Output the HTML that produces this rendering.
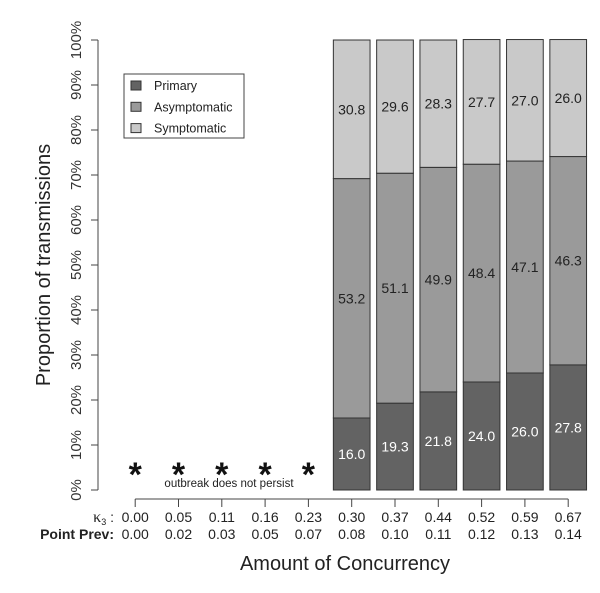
<!DOCTYPE html>
<html><head><meta charset="utf-8"><style>
body{margin:0;background:#fff}
svg text{font-family:"Liberation Sans",sans-serif}
</style></head><body>
<svg id="chart" width="600" height="588" viewBox="0 0 600 588" xmlns="http://www.w3.org/2000/svg"></svg>
<script>
const kappa = ["0.00","0.05","0.11","0.16","0.23","0.30","0.37","0.44","0.52","0.59","0.67"];
const pointPrev = ["0.00","0.02","0.03","0.05","0.07","0.08","0.10","0.11","0.12","0.13","0.14"];
const persists = [false,false,false,false,false,true,true,true,true,true,true];
const primary = [0,0,0,0,0,16.0,19.3,21.8,24.0,26.0,27.8];
const asymptomatic = [0,0,0,0,0,53.2,51.1,49.9,48.4,47.1,46.3];
const symptomatic = [0,0,0,0,0,30.8,29.6,28.3,27.7,27.0,26.0];
const yTicks = [0,10,20,30,40,50,60,70,80,90,100];

const svg = document.getElementById('chart');
const NS = 'http://www.w3.org/2000/svg';
function mk(tag, attrs, parent){const e=document.createElementNS(NS,tag);for(const k in attrs)e.setAttribute(k,attrs[k]);(parent||svg).appendChild(e);return e;}
const y = v => 490 - v*4.5;
const x = i => 135.2 + i*43.3;
const bw = 36.7;

let ax = mk('line',{x1:98,y1:y(0),x2:98,y2:y(100),stroke:'#444','stroke-width':1});


yTicks.forEach(t=>{
  const l=mk('line',{x1:91,y1:y(t),x2:98,y2:y(t),stroke:'#444'});
  
  
  const tx=mk('text',{x:0,y:0,transform:`translate(81,${y(t)}) rotate(-90)`,'text-anchor':'middle','font-size':15,fill:'#333'});
  tx.textContent=t+'%';
  
  
});
const yt=mk('text',{transform:'translate(50,265) rotate(-90)','text-anchor':'middle','font-size':20,fill:'#222'});
yt.textContent='Proportion of transmissions';



const xl=mk('line',{x1:x(0),y1:499,x2:x(10),y2:499,stroke:'#444'});


kappa.forEach((k,i)=>{
  const t=mk('line',{x1:x(i),y1:499,x2:x(i),y2:507,stroke:'#444'});
  
  
  const a=mk('text',{x:x(i),y:522,'text-anchor':'middle','font-size':14,fill:'#222'});
  a.textContent=k;
  
  
  const b=mk('text',{x:x(i),y:539,'text-anchor':'middle','font-size':14,fill:'#222'});
  b.textContent=pointPrev[i];
  
  
});
const kl=mk('text',{x:114,y:522,'text-anchor':'end','font-size':14,fill:'#222'});
kl.innerHTML='<tspan font-family="Liberation Serif" font-size="16">κ</tspan><tspan font-size="9" dy="3">3</tspan><tspan dy="-3"> :</tspan>';


const pl=mk('text',{x:114,y:539,'text-anchor':'end','font-size':14,'font-weight':'bold',fill:'#222'});
pl.textContent='Point Prev:';


const xt=mk('text',{x:345,y:570,'text-anchor':'middle','font-size':20,fill:'#222'});
xt.textContent='Amount of Concurrency';



const series=[[primary,'#636363','#fff','primary'],[asymptomatic,'#9a9a9a','#222','asymptomatic'],[symptomatic,'#c9c9c9','#222','symptomatic']];
kappa.forEach((k,i)=>{
  if(!persists[i]){
    const s=mk('text',{x:x(i),y:486,'text-anchor':'middle','font-size':34,'font-weight':'bold',fill:'#111'});
    s.textContent='*';
    
    
    return;
  }
  let base=0;
  series.forEach(([arr,col,tc,nm])=>{
    const v=arr[i];
    const r=mk('rect',{x:x(i)-bw/2,y:y(base+v),width:bw,height:v*4.5,fill:col,stroke:'#333','stroke-width':1});
    
    
    const t=mk('text',{x:x(i),y:y(base+v/2)+5,'text-anchor':'middle','font-size':14,fill:tc});
    t.textContent=v.toFixed(1);
    
    
    base+=v;
  });
});
const op=mk('text',{x:229,y:487,'text-anchor':'middle','font-size':11.5,fill:'#222'});
op.textContent='outbreak does not persist';



const lg=mk('g',{});


mk('rect',{x:124,y:74,width:120,height:64,fill:'#fff',stroke:'#444'},lg);
series.forEach(([arr,col,tc,nm],j)=>{
  const sw=mk('rect',{x:131,y:81+j*21.3,width:10,height:9,fill:col,stroke:'#333'},lg);
  
  
  const t=mk('text',{x:154,y:90+j*21.3,'font-size':12.5,fill:'#222'},lg);
  t.textContent=nm[0].toUpperCase()+nm.slice(1);
  
  
});
</script>
</body></html>
